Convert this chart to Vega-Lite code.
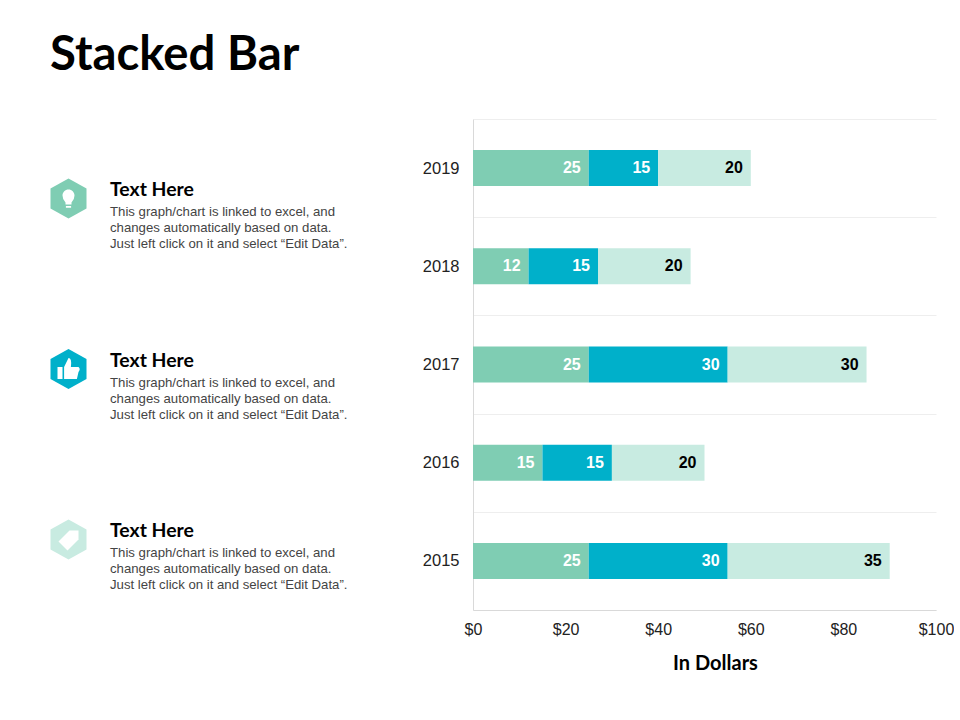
{
"$schema":"https://vega.github.io/schema/vega-lite/v6.json",
"padding":{"left":0,"top":32,"right":0,"bottom":0},
"background":"#ffffff",
"bounds":"flush",
"spacing":73,
"title":{"text":"Stacked Bar","anchor":"start","frame":"group","font":"Lato","fontSize":47.3,"fontWeight":"bold","color":"#000000","dx":50,"offset":30.5},
"config":{"view":{"stroke":null},"font":"Liberation Sans"},
"hconcat":[
{"width":400,"height":491,
"data":{"values":[
{"item":"A","kind":"bulb","heading":"Text Here","body":["This graph/chart is linked to excel, and","changes automatically based on data.","Just left click on it and select “Edit Data”."]},
{"item":"B","kind":"thumb","heading":"Text Here","body":["This graph/chart is linked to excel, and","changes automatically based on data.","Just left click on it and select “Edit Data”."]},
{"item":"C","kind":"tag","heading":"Text Here","body":["This graph/chart is linked to excel, and","changes automatically based on data.","Just left click on it and select “Edit Data”."]}
]},
"encoding":{"y":{"field":"item","type":"ordinal","axis":null,"scale":{"type":"point","domain":["A","B","C"],"padding":0.44}}},
"layer":[
{"mark":{"type":"point","filled":true,"opacity":1,"shape":"M0,-1 L0.9,-0.5 L0.9,0.5 L0,1 L-0.9,0.5 L-0.9,-0.5 Z","size":1600,"yOffset":4.5},
"encoding":{"x":{"datum":"icon","type":"ordinal","axis":null,"scale":{"type":"point","domain":["icon","text"],"range":[68.5,110],"padding":0}},
"color":{"field":"kind","type":"nominal","legend":null,"scale":{"domain":["bulb","thumb","tag"],"range":["#7fcdb3","#00b0ca","#c8ebe1"]}}}},
{"mark":{"type":"point","filled":true,"opacity":1,"size":1600,"color":"#ffffff","yOffset":4.5},
"encoding":{"x":{"datum":"icon","type":"ordinal"},
"shape":{"field":"kind","type":"nominal","legend":null,"scale":{"domain":["bulb","thumb","tag"],"range":[
"M-0.3,-0.15 A0.3,0.3 0 1 1 0.3,-0.15 Q0.3,0.05 0.15,0.2 L0.15,0.3 L-0.15,0.3 L-0.15,0.2 Q-0.3,0.05 -0.3,-0.15 Z M-0.13,0.37 L0.13,0.37 L0.13,0.46 L-0.13,0.46 Z",
"M-0.55,-0.1 L-0.3,-0.1 L-0.3,0.5 L-0.55,0.5 Z M-0.22,-0.1 L0,-0.55 Q0.18,-0.55 0.12,-0.1 L0.5,-0.1 Q0.62,0 0.5,0.15 L0.42,0.5 L-0.22,0.5 Z",
"M-0.5,0.1 L0.05,-0.45 L0.5,-0.45 L0.5,0 L-0.05,0.55 Z"]}}}},
{"mark":{"type":"text","align":"left","baseline":"middle","font":"Lato","fontSize":19.4,"fontWeight":"bold","color":"#000000","dy":-4},
"encoding":{"x":{"datum":"text","type":"ordinal"},"text":{"field":"heading","type":"nominal"}}},
{"mark":{"type":"text","align":"left","baseline":"middle","fontSize":13.2,"color":"#444444","lineHeight":16,"dy":18},
"encoding":{"x":{"datum":"text","type":"ordinal"},"text":{"field":"body","type":"nominal"}}}
]},
{"width":463,"height":491,
"data":{"values":[
{"year":"2019","series":"S1","rank":1,"value":25},{"year":"2019","series":"S2","rank":2,"value":15},{"year":"2019","series":"S3","rank":3,"value":20},
{"year":"2018","series":"S1","rank":1,"value":12},{"year":"2018","series":"S2","rank":2,"value":15},{"year":"2018","series":"S3","rank":3,"value":20},
{"year":"2017","series":"S1","rank":1,"value":25},{"year":"2017","series":"S2","rank":2,"value":30},{"year":"2017","series":"S3","rank":3,"value":30},
{"year":"2016","series":"S1","rank":1,"value":15},{"year":"2016","series":"S2","rank":2,"value":15},{"year":"2016","series":"S3","rank":3,"value":20},
{"year":"2015","series":"S1","rank":1,"value":25},{"year":"2015","series":"S2","rank":2,"value":30},{"year":"2015","series":"S3","rank":3,"value":35}
]},
"encoding":{
"y":{"field":"year","type":"nominal","sort":"descending","title":null,"scale":{"paddingInner":0,"paddingOuter":0},"axis":{"grid":true,"gridColor":"#eeeeee","tickBand":"extent","ticks":false,"domainColor":"#d9d9d9","labelFontSize":16.5,"labelColor":"#222222","labelPadding":14,"labelFont":"Liberation Sans"}},
"x":{"field":"value","type":"quantitative","stack":"zero","title":"In Dollars","scale":{"domain":[0,100]},"axis":{"values":[0,20,40,60,80,100],"format":"$.0f","grid":false,"ticks":false,"domainColor":"#d9d9d9","labelFontSize":16,"labelColor":"#222222","labelPadding":11,"labelFont":"Liberation Sans","labelFlush":false,"titleFont":"Lato","titleFontSize":20,"titleFontWeight":"bold","titleColor":"#000000","titleX":242,"titleY":43}},
"order":{"field":"rank","type":"quantitative"}
},
"layer":[
{"mark":{"type":"bar","size":36},"encoding":{"color":{"field":"series","type":"nominal","legend":null,"scale":{"range":["#7fcdb3","#00b0ca","#c8ebe1"]}}}},
{"mark":{"type":"text","align":"right","baseline":"middle","dx":-8,"font":"Liberation Sans","fontSize":16,"fontWeight":"bold"},
"encoding":{"text":{"field":"value","type":"quantitative"},"color":{"field":"series","type":"nominal","legend":null,"scale":{"range":["#ffffff","#ffffff","#000000"]}}}}
],
"resolve":{"scale":{"color":"independent"}}
}
],
"resolve":{"scale":{"color":"independent","x":"independent","y":"independent"}}
}
